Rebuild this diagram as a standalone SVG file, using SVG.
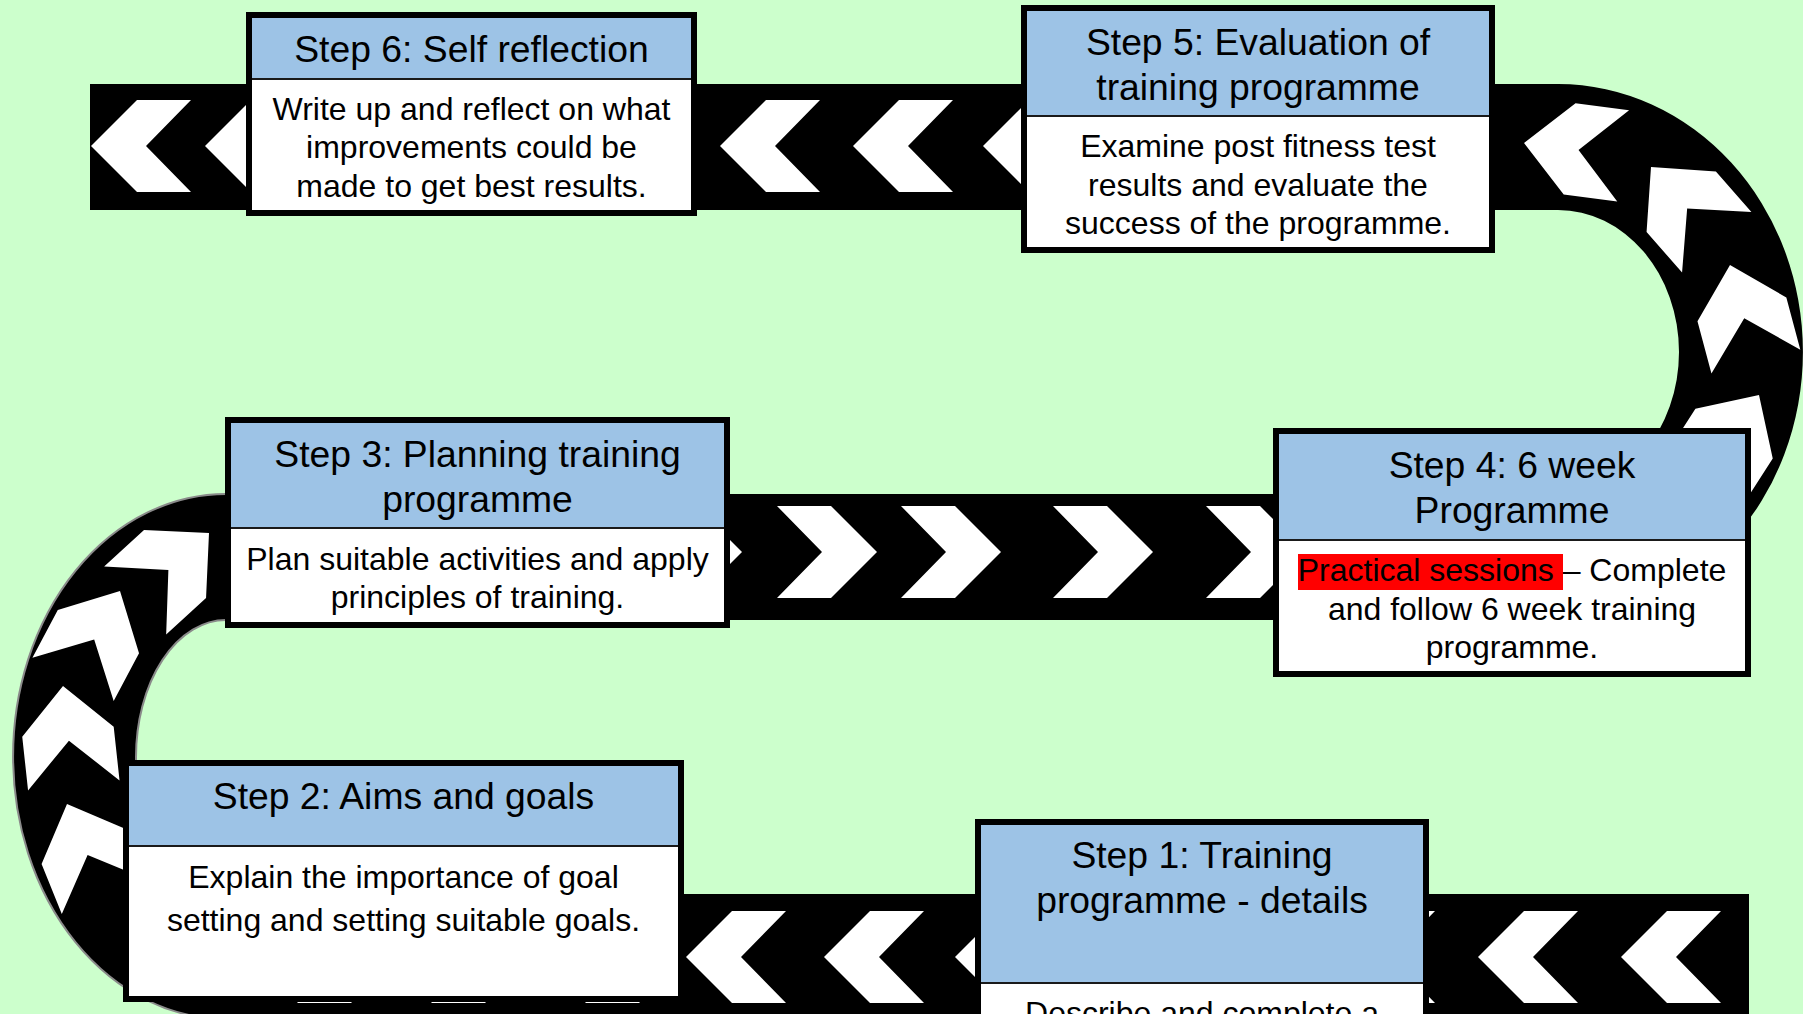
<svg xmlns="http://www.w3.org/2000/svg" width="1803" height="1014" viewBox="0 0 1803 1014">
<defs>
<style>
.hdr{fill:#9DC3E6}
.bdy{fill:#FFFFFF}
.frame{fill:none;stroke:#000;stroke-width:6}
.sep{stroke:#1a1a1a;stroke-width:2}
.road{fill:#000}
.edge{fill:none;stroke:#8a8a8a;stroke-width:2}
text{font-family:"Liberation Sans",Arial,sans-serif;fill:#000;text-anchor:middle}
.t1{font-size:37.3px}
.t2{font-size:32px}
</style>
<!-- chevron pointing left, apex at origin -->
<polygon id="chev" points="0,0 46,-46 100,-46 55,0 100,46 46,46" fill="#FFFFFF"/>
</defs>

<rect width="1803" height="1014" fill="#CCFFCC"/>

<!-- winding road with direction chevrons -->
<g id="road">
  <rect class="road" x="90" y="84" width="1469" height="126"/>
  <path class="road" d="M1558,84 A245,268 0 0 1 1558,620 L1558,494 A121,142 0 0 0 1558,210 Z"/>
  <rect class="road" x="225" y="494" width="1334" height="126"/>
  <path class="road" d="M226,494 A213,262.5 0 0 0 226,1019 L226,894 A90,137 0 0 1 226,620 Z"/>
  <path class="edge" d="M226,494 A213,262.5 0 0 0 226,1019"/>
  <path class="edge" d="M226,620 A90,137 0 0 0 226,894"/>
  <rect class="road" x="225" y="894" width="1524" height="125"/>

  <!-- top straight -->
  <use href="#chev" transform="translate(91,146)"/>
  <use href="#chev" transform="translate(205,146)"/>
  <use href="#chev" transform="translate(720,146)"/>
  <use href="#chev" transform="translate(853,146)"/>
  <use href="#chev" transform="translate(983,146)"/>
  <!-- right bend -->
  <use href="#chev" transform="translate(1524,143) rotate(7.4)"/>
  <use href="#chev" transform="translate(1651,167) rotate(48.9)"/>
  <use href="#chev" transform="translate(1730,265) rotate(75)"/>
  <use href="#chev" transform="translate(1759,395) rotate(122.8)"/>
  <!-- middle straight -->
  <use href="#chev" transform="translate(742,552) rotate(180)"/>
  <use href="#chev" transform="translate(877,552) rotate(180)"/>
  <use href="#chev" transform="translate(1001,552) rotate(180)"/>
  <use href="#chev" transform="translate(1153,552) rotate(180)"/>
  <use href="#chev" transform="translate(1306,552) rotate(180)"/>
  <!-- left bend -->
  <use href="#chev" transform="translate(209,533) rotate(137.6)"/>
  <use href="#chev" transform="translate(120,591) rotate(118)"/>
  <use href="#chev" transform="translate(63,686) rotate(83.8)"/>
  <use href="#chev" transform="translate(67,804) rotate(68)"/>
  <!-- bottom straight -->
  <use href="#chev" transform="translate(252,957)"/>
  <use href="#chev" transform="translate(386,957)"/>
  <use href="#chev" transform="translate(540,957)"/>
  <use href="#chev" transform="translate(686,957)"/>
  <use href="#chev" transform="translate(824,957)"/>
  <use href="#chev" transform="translate(955,957)"/>
  <use href="#chev" transform="translate(1335,957)"/>
  <use href="#chev" transform="translate(1478,957)"/>
  <use href="#chev" transform="translate(1621,957)"/>
</g>

<!-- Step 6 -->
<g id="step6">
  <rect class="hdr" x="246" y="12" width="451" height="67"/>
  <rect class="bdy" x="246" y="79" width="451" height="137"/>
  <line class="sep" x1="246" y1="79" x2="697" y2="79"/>
  <rect class="frame" x="249" y="15" width="445" height="198"/>
  <text class="t1" x="471.5" y="62">Step 6: Self reflection</text>
  <text class="t2" x="471.5" y="119.5">Write up and reflect on what</text>
  <text class="t2" x="471.5" y="158">improvements could be</text>
  <text class="t2" x="471.5" y="196.5">made to get best results.</text>
</g>

<!-- Step 5 -->
<g id="step5">
  <rect class="hdr" x="1021" y="5" width="474" height="111"/>
  <rect class="bdy" x="1021" y="116" width="474" height="137"/>
  <line class="sep" x1="1021" y1="116" x2="1495" y2="116"/>
  <rect class="frame" x="1024" y="8" width="468" height="242"/>
  <text class="t1" x="1258" y="55">Step 5: Evaluation of</text>
  <text class="t1" x="1258" y="100">training programme</text>
  <text class="t2" x="1258" y="157">Examine post fitness test</text>
  <text class="t2" x="1258" y="195.5">results and evaluate the</text>
  <text class="t2" x="1258" y="234">success of the programme.</text>
</g>

<!-- Step 4 -->
<g id="step4">
  <rect class="hdr" x="1273" y="428" width="478" height="112"/>
  <rect class="bdy" x="1273" y="540" width="478" height="137"/>
  <line class="sep" x1="1273" y1="540" x2="1751" y2="540"/>
  <rect class="frame" x="1276" y="431" width="472" height="243"/>
  <text class="t1" x="1512" y="478">Step 4: 6 week</text>
  <text class="t1" x="1512" y="523">Programme</text>
  <rect x="1298" y="554" width="265" height="36" fill="#FF0000"/>
  <text class="t2" x="1512" y="581">Practical sessions – Complete</text>
  <text class="t2" x="1512" y="619.5">and follow 6 week training</text>
  <text class="t2" x="1512" y="658">programme.</text>
</g>

<!-- Step 3 -->
<g id="step3">
  <rect class="hdr" x="225" y="417" width="505" height="111"/>
  <rect class="bdy" x="225" y="528" width="505" height="100"/>
  <line class="sep" x1="225" y1="528" x2="730" y2="528"/>
  <rect class="frame" x="228" y="420" width="499" height="205"/>
  <text class="t1" x="477.5" y="467">Step 3: Planning training</text>
  <text class="t1" x="477.5" y="512">programme</text>
  <text class="t2" x="477.5" y="569.5">Plan suitable activities and apply</text>
  <text class="t2" x="477.5" y="608">principles of training.</text>
</g>

<!-- Step 2 -->
<g id="step2">
  <rect class="hdr" x="123" y="760" width="561" height="86"/>
  <rect class="bdy" x="123" y="846" width="561" height="156"/>
  <line class="sep" x1="123" y1="846" x2="684" y2="846"/>
  <rect class="frame" x="126" y="763" width="555" height="236"/>
  <text class="t1" x="403.5" y="809">Step 2: Aims and goals</text>
  <text class="t2" x="403.5" y="887.5">Explain the importance of goal</text>
  <text class="t2" x="403.5" y="931">setting and setting suitable goals.</text>
</g>

<!-- Step 1 -->
<g id="step1">
  <rect class="hdr" x="975" y="819" width="454" height="164"/>
  <rect class="bdy" x="975" y="983" width="454" height="60"/>
  <line class="sep" x1="975" y1="983" x2="1429" y2="983"/>
  <rect class="frame" x="978" y="822" width="448" height="230"/>
  <text class="t1" x="1202" y="868">Step 1: Training</text>
  <text class="t1" x="1202" y="912.5">programme - details</text>
  <text class="t2" x="1202" y="1024">Describe and complete a</text>
</g>
</svg>
